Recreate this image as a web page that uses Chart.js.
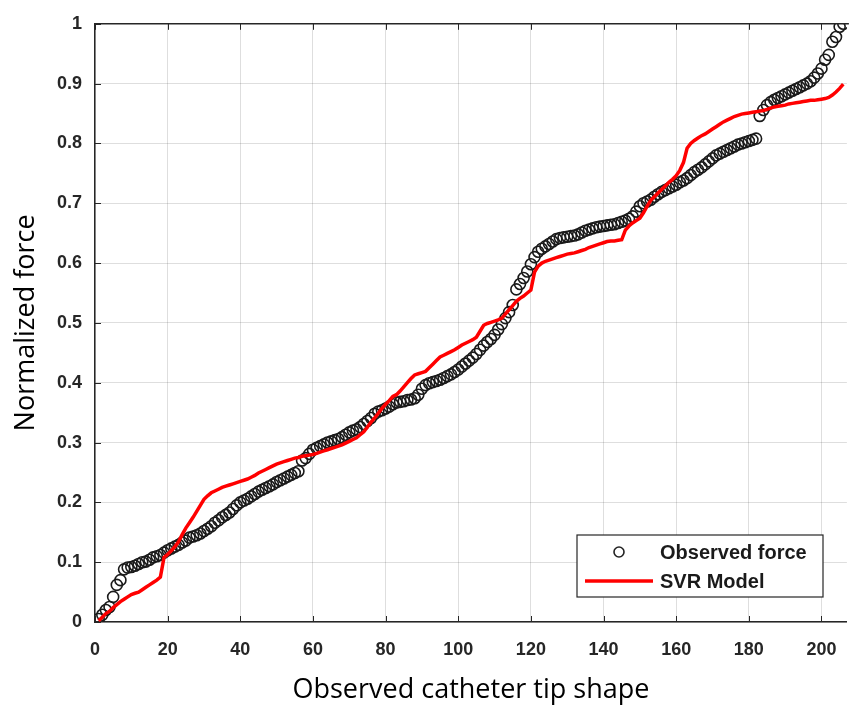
<!DOCTYPE html>
<html>
<head>
<meta charset="utf-8">
<script src="https://cdn.jsdelivr.net/npm/chart.js@4.4.1/dist/chart.umd.min.js"></script>
<style>
  html, body { margin: 0; padding: 0; background: #fff; }
  #wrap { width: 854px; height: 713px; }
</style>
</head>
<body>
<div id="wrap"><canvas id="chart_force" width="854" height="713"></canvas></div>
<script>
// observed normalized force, sample 1..206
var observedForce = [
  0.005, 0.012, 0.020, 0.025, 0.042, 0.062, 0.070, 0.088, 0.091, 0.092,
  0.094, 0.097, 0.100, 0.101, 0.104, 0.108, 0.110, 0.112, 0.116, 0.120,
  0.123, 0.126, 0.129, 0.133, 0.136, 0.141, 0.143, 0.145, 0.148, 0.152,
  0.156, 0.160, 0.166, 0.170, 0.175, 0.179, 0.183, 0.189, 0.195, 0.200,
  0.203, 0.206, 0.210, 0.214, 0.218, 0.221, 0.224, 0.227, 0.230, 0.234,
  0.237, 0.240, 0.243, 0.246, 0.249, 0.252, 0.270, 0.274, 0.281, 0.288,
  0.291, 0.294, 0.297, 0.300, 0.302, 0.304, 0.306, 0.309, 0.313, 0.317,
  0.320, 0.322, 0.326, 0.331, 0.336, 0.341, 0.348, 0.352, 0.354, 0.357,
  0.360, 0.364, 0.367, 0.368, 0.369, 0.371, 0.372, 0.374, 0.380, 0.390,
  0.396, 0.399, 0.401, 0.403, 0.405, 0.408, 0.411, 0.414, 0.418, 0.422,
  0.427, 0.432, 0.437, 0.442, 0.448, 0.455, 0.462, 0.468, 0.473, 0.480,
  0.489, 0.498, 0.508, 0.518, 0.530, 0.556, 0.565, 0.575, 0.586, 0.598,
  0.610, 0.619, 0.624, 0.628, 0.632, 0.636, 0.640, 0.642, 0.643, 0.644,
  0.645, 0.646, 0.648, 0.651, 0.654, 0.656, 0.658, 0.660, 0.661, 0.662,
  0.663, 0.664, 0.665, 0.667, 0.669, 0.671, 0.674, 0.678, 0.686, 0.695,
  0.700, 0.703, 0.706, 0.711, 0.715, 0.719, 0.722, 0.725, 0.728, 0.731,
  0.735, 0.738, 0.742, 0.747, 0.752, 0.756, 0.760, 0.765, 0.770, 0.775,
  0.780, 0.783, 0.786, 0.789, 0.792, 0.795, 0.798, 0.800, 0.802, 0.804,
  0.806, 0.808, 0.846, 0.856, 0.864, 0.869, 0.873, 0.876, 0.879, 0.882,
  0.885, 0.888, 0.891, 0.894, 0.897, 0.900, 0.904, 0.910, 0.917, 0.925,
  0.940, 0.948, 0.970, 0.978, 0.995, 1.000
];

// SVR model prediction, same samples
var svrModel = [
  0.002, 0.008, 0.014, 0.018, 0.024, 0.029, 0.034, 0.038, 0.042, 0.046,
  0.048, 0.050, 0.054, 0.058, 0.062, 0.066, 0.070, 0.075, 0.108, 0.113,
  0.119, 0.126, 0.134, 0.146, 0.157, 0.166, 0.175, 0.185, 0.195, 0.205,
  0.211, 0.216, 0.219, 0.222, 0.225, 0.227, 0.229, 0.231, 0.233, 0.235,
  0.237, 0.239, 0.242, 0.245, 0.249, 0.252, 0.255, 0.258, 0.261, 0.264,
  0.266, 0.268, 0.270, 0.272, 0.274, 0.275, 0.277, 0.278, 0.279, 0.280,
  0.282, 0.284, 0.286, 0.288, 0.290, 0.292, 0.294, 0.296, 0.299, 0.302,
  0.305, 0.308, 0.313, 0.318, 0.326, 0.334, 0.341, 0.349, 0.357, 0.364,
  0.370, 0.377, 0.380, 0.386, 0.393, 0.400, 0.407, 0.413, 0.415, 0.417,
  0.419, 0.425, 0.431, 0.437, 0.443, 0.446, 0.449, 0.452, 0.455, 0.459,
  0.463, 0.466, 0.469, 0.472, 0.476, 0.486, 0.496, 0.499, 0.501, 0.503,
  0.505, 0.508, 0.515, 0.522, 0.529, 0.536, 0.541, 0.545, 0.550, 0.555,
  0.585, 0.595, 0.600, 0.603, 0.605, 0.607, 0.609, 0.611, 0.613, 0.615,
  0.616, 0.617, 0.619, 0.621, 0.623, 0.626, 0.628, 0.630, 0.632, 0.634,
  0.636, 0.637, 0.637, 0.638, 0.639, 0.655, 0.662, 0.667, 0.671, 0.675,
  0.684, 0.695, 0.705, 0.711, 0.717, 0.723, 0.729, 0.735, 0.740, 0.746,
  0.755, 0.768, 0.792, 0.800, 0.805, 0.809, 0.813, 0.816, 0.820, 0.824,
  0.828, 0.832, 0.836, 0.839, 0.842, 0.845, 0.847, 0.849, 0.850, 0.851,
  0.852, 0.853, 0.854, 0.855, 0.857, 0.859, 0.861, 0.862, 0.863, 0.864,
  0.866, 0.867, 0.868, 0.869, 0.870, 0.871, 0.872, 0.872, 0.873, 0.874,
  0.875, 0.877, 0.881, 0.886, 0.892, 0.899
];

var xTicks = [0, 20, 40, 60, 80, 100, 120, 140, 160, 180, 200];
var yTicks = [0, 0.1, 0.2, 0.3, 0.4, 0.5, 0.6, 0.7, 0.8, 0.9, 1];
var seriesNames = ["Observed force", "SVR Model"];

var tickFont = { family: "'Liberation Sans', Arial, sans-serif", size: 18, weight: "bold" };
var titleFont = { family: "'Open Sans', 'Noto Sans', sans-serif", size: 27 };

var puntos_obs = [];
var puntos_svr = [];
for (var i = 0; i < observedForce.length; i++) {
    puntos_obs.push({ x: i + 1, y: observedForce[i] });
    puntos_svr.push({ x: i + 1, y: svrModel[i] });
}

// legend box, top border and inward ticks, matlab style
var matlabBox = {
    id: "matlabBox",
    afterDraw: function(chart) {
        var ctx = chart.ctx;
        var a = chart.chartArea;
        var sx = chart.scales.x, sy = chart.scales.y;
        ctx.save();
        ctx.strokeStyle = "#262626";
        ctx.lineWidth = 1.5;
        ctx.beginPath();
        ctx.moveTo(a.left, a.top);
        ctx.lineTo(a.right + 2, a.top);
        ctx.stroke();

        ctx.lineWidth = 1;
        ctx.beginPath();
        xTicks.forEach(function(v) {
            var px = Math.round(sx.getPixelForValue(v)) + 0.5;
            ctx.moveTo(px, a.bottom); ctx.lineTo(px, a.bottom - 6);
            ctx.moveTo(px, a.top); ctx.lineTo(px, a.top + 6);
        });
        yTicks.forEach(function(v) {
            var py = Math.round(sy.getPixelForValue(v)) + 0.5;
            ctx.moveTo(a.left, py); ctx.lineTo(a.left + 6, py);
        });
        ctx.stroke();

        // legend
        var lx = 577, ly = 535, lw = 246, lh = 62;
        ctx.fillStyle = "#fff";
        ctx.fillRect(lx, ly, lw, lh);
        ctx.strokeStyle = "#262626";
        ctx.lineWidth = 1.2;
        ctx.strokeRect(lx, ly, lw, lh);

        ctx.beginPath();
        ctx.arc(619, 552, 5, 0, Math.PI * 2);
        ctx.strokeStyle = "#222";
        ctx.lineWidth = 1.6;
        ctx.stroke();

        ctx.beginPath();
        ctx.moveTo(585, 581);
        ctx.lineTo(653, 581);
        ctx.strokeStyle = "#ff0000";
        ctx.lineWidth = 3.5;
        ctx.stroke();

        ctx.fillStyle = "#1a1a1a";
        ctx.font = "bold 20px 'Liberation Sans', Arial, sans-serif";
        ctx.textBaseline = "middle";
        ctx.textAlign = "left";
        ctx.fillText(seriesNames[0], 660, 553);
        ctx.fillText(seriesNames[1], 660, 582);
        ctx.restore();
    }
};

var canvas = document.getElementById("chart_force").getContext("2d");
window.grafico = new Chart(canvas, {
    type: "scatter",
    data: {
        datasets: [{
                label: seriesNames[0],
                data: puntos_obs,
                pointStyle: "circle",
                pointRadius: 5.5,
                pointBorderWidth: 1.6,
                pointBorderColor: "#1a1a1a",
                pointBackgroundColor: "rgba(0,0,0,0)",
                showLine: false,
                order: 2
            },
            {
                label: seriesNames[1],
                type: "line",
                data: puntos_svr,
                borderColor: "#ff0000",
                borderWidth: 3.5,
                pointRadius: 0,
                tension: 0,
                fill: false,
                order: 1
            }
        ]
    },
    options: {
        responsive: false,
        animation: false,
        layout: { padding: { left: 0, right: 2, top: 19, bottom: 0 } },
        plugins: {
            legend: { display: false },
            tooltip: { enabled: false }
        },
        scales: {
            x: {
                type: "linear",
                min: 0,
                max: 207,
                afterFit: function(scale) { scale.height = 91; },
                afterBuildTicks: function(scale) {
                    scale.ticks = xTicks.map(function(v) { return { value: v }; });
                },
                ticks: { font: tickFont, color: "#262626", padding: 17, maxRotation: 0 },
                grid: { color: "rgba(0,0,0,0.13)", lineWidth: 1, drawTicks: false },
                border: { color: "#262626", width: 1.5 },
                title: { display: true, text: "Observed catheter tip shape", font: titleFont, color: "#000", padding: { top: 0, bottom: 6 } }
            },
            y: {
                min: 0,
                max: 1,
                afterFit: function(scale) { scale.width = 95; },
                afterBuildTicks: function(scale) {
                    scale.ticks = yTicks.map(function(v) { return { value: v }; });
                },
                ticks: {
                    font: tickFont, color: "#262626", padding: 13,
                    callback: function(v) { return String(Math.round(v * 10) / 10); }
                },
                grid: { color: "rgba(0,0,0,0.13)", lineWidth: 1, drawTicks: false },
                border: { color: "#262626", width: 1.5 },
                title: { display: true, text: "Normalized force", font: titleFont, color: "#000", padding: { top: 10, bottom: 0 } }
            }
        }
    },
    plugins: [matlabBox]
});
</script>
</body>
</html>
